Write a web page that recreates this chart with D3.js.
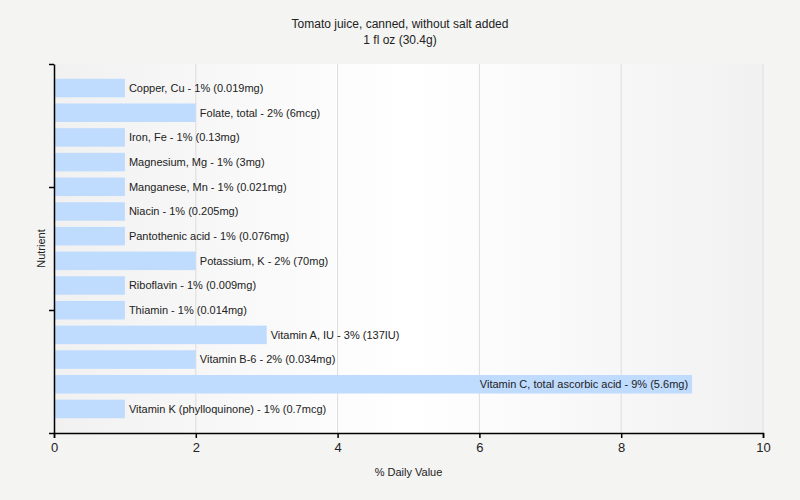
<!DOCTYPE html>
<html>
<head>
<meta charset="utf-8">
<script src="https://cdn.jsdelivr.net/npm/d3@7"></script>
<style>
  body { margin: 0; background: #f4f4f3; }
  text { font-family: "Liberation Sans", Arial, sans-serif; }
</style>
</head>
<body>
<div id="chart"></div>
<script>
/* ===== Nutrient bar chart ===== */

const nutrients = [
  'Copper, Cu', 'Folate, total', 'Iron, Fe', 'Magnesium, Mg', 'Manganese, Mn',
  'Niacin', 'Pantothenic acid', 'Potassium, K', 'Riboflavin', 'Thiamin',
  'Vitamin A, IU', 'Vitamin B-6', 'Vitamin C, total ascorbic acid', 'Vitamin K (phylloquinone)'
];
const dailyValues = [1, 2, 1, 1, 1, 1, 1, 2, 1, 1, 3, 2, 9, 1];
const amounts = [
  '0.019mg', '6mcg', '0.13mg', '3mg', '0.021mg', '0.205mg', '0.076mg',
  '70mg', '0.009mg', '0.014mg', '137IU', '0.034mg', '5.6mg', '0.7mcg'
];
const xTicks = [0, 2, 4, 6, 8, 10];
const yTicks = [0, 1, 2, 3];

const data = nutrients.map((n, i) => ({ name: n, value: dailyValues[i], amount: amounts[i] }));

const width = 800, height = 500;
const margin = { top: 64, right: 37, bottom: 67, left: 54 };
const w = width - margin.left - margin.right;
const h = height - margin.top - margin.bottom;

const svg = d3.select('#chart').append('svg')
  .attr('width', width)
  .attr('height', height);

// Plot background gradient
const grad = svg.append('defs').append('linearGradient')
  .attr('id', 'bg-grad')
  .attr('x1', 0).attr('y1', 0).attr('x2', 1).attr('y2', 0);
grad.append('stop').attr('offset', '0%').attr('stop-color', '#f1f1f1');
grad.append('stop').attr('offset', '50%').attr('stop-color', '#ffffff');
grad.append('stop').attr('offset', '100%').attr('stop-color', '#f1f1f1');

const g = svg.append('g')
  .attr('transform', `translate(${margin.left},${margin.top})`);

g.append('rect')
  .attr('width', w).attr('height', h)
  .attr('fill', 'url(#bg-grad)');

const x = d3.scaleLinear().domain([0, 10]).range([0, w]);
const y = d3.scaleBand()
  .domain(nutrients)
  .range([0, h])
  .paddingInner(0.25)
  .paddingOuter(0.6);

// Grid
g.selectAll('.grid')
  .data(xTicks.slice(1))
  .join('line')
  .attr('x1', d => x(d)).attr('x2', d => x(d))
  .attr('y1', 0).attr('y2', h)
  .attr('stroke', '#dddddd');

// Bars
g.selectAll('.bar')
  .data(data)
  .join('rect')
  .attr('x', 0)
  .attr('y', d => y(d.name))
  .attr('width', d => x(d.value))
  .attr('height', y.bandwidth())
  .attr('fill', '#bfdbfe');

// Labels - inside the bar when they would run past the plot
g.selectAll('.bar-label')
  .data(data)
  .join('text')
  .attr('y', d => y(d.name) + y.bandwidth() / 2)
  .attr('dy', '0.35em')
  .attr('font-size', '11px')
  .attr('fill', '#222')
  .text(d => `${d.name} - ${d.value}% (${d.amount})`)
  .each(function (d) {
    const len = this.getComputedTextLength();
    const sel = d3.select(this);
    if (x(d.value) + 4 + len > w) {
      sel.attr('x', x(d.value) - 4).attr('text-anchor', 'end');
    } else {
      sel.attr('x', x(d.value) + 4);
    }
  });

// X axis
g.append('g')
  .attr('transform', `translate(0,${h})`)
  .call(d3.axisBottom(x).tickValues(xTicks).tickSize(5).tickPadding(5).tickFormat(d3.format('d')))
  .call(a => a.select('.domain').attr('stroke', '#000').attr('stroke-width', 1.5))
  .call(a => a.selectAll('line').attr('stroke', '#000').attr('stroke-width', 1.5))
  .call(a => a.selectAll('text').attr('font-size', '13px').attr('fill', '#222')
    .attr('font-family', '"Liberation Sans", Arial, sans-serif'));

// Y axis (ticks only, no labels)
const yLin = d3.scaleLinear().domain([0, 3]).range([0, h]);
g.append('g')
  .call(d3.axisLeft(yLin).tickValues(yTicks).tickSize(5).tickSizeOuter(0).tickFormat(''))
  .call(a => a.select('.domain').attr('stroke', '#000').attr('stroke-width', 1.5))
  .call(a => a.selectAll('line').attr('stroke', '#000').attr('stroke-width', 1.5));

// Titles
svg.append('text')
  .attr('x', width / 2).attr('y', 28)
  .attr('text-anchor', 'middle')
  .attr('font-size', '12px').attr('fill', '#222')
  .text('Tomato juice, canned, without salt added');
svg.append('text')
  .attr('x', width / 2).attr('y', 44)
  .attr('text-anchor', 'middle')
  .attr('font-size', '12px').attr('fill', '#222')
  .text('1 fl oz (30.4g)');

svg.append('text')
  .attr('x', margin.left + w / 2).attr('y', 476)
  .attr('text-anchor', 'middle')
  .attr('font-size', '11px').attr('fill', '#222')
  .text('% Daily Value');

svg.append('text')
  .attr('transform', `translate(45,${margin.top + h / 2}) rotate(-90)`)
  .attr('text-anchor', 'middle')
  .attr('font-size', '11px').attr('fill', '#222')
  .text('Nutrient');
</script>
</body>
</html>
